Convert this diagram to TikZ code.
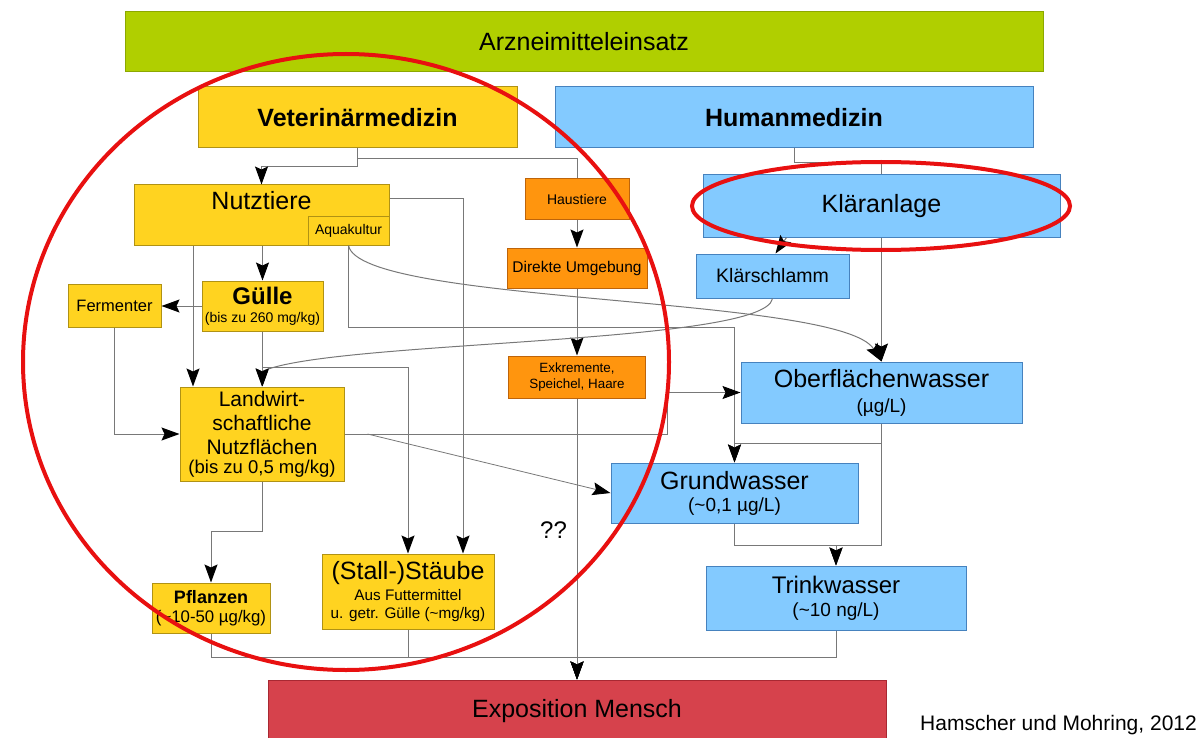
\documentclass[tikz,border=0pt]{standalone}
\usepackage{fontspec}
\setmainfont{Liberation Sans}
\usetikzlibrary{arrows.meta,positioning,calc}
\definecolor{arzgreen}{RGB}{176,207,0}
\definecolor{arzborder}{RGB}{140,168,0}
\definecolor{vetyellow}{RGB}{255,211,32}
\definecolor{vetborder}{RGB}{176,146,20}
\definecolor{humblue}{RGB}{131,202,255}
\definecolor{humborder}{RGB}{70,130,190}
\definecolor{hausorange}{RGB}{255,149,14}
\definecolor{hausborder}{RGB}{190,100,10}
\definecolor{expred}{RGB}{214,66,76}
\definecolor{expborder}{RGB}{168,40,50}
\definecolor{linegray}{RGB}{120,120,120}
\definecolor{markred}{RGB}{232,16,16}
\tikzset{main base/.style={draw,line width=1pt,align=center,inner sep=0pt}, }
\tikzset{main node/.style={rectangle,main base}, }
\tikzset{vet node/.style={main node,fill=vetyellow,draw=vetborder}, }
\tikzset{hum node/.style={main node,fill=humblue,draw=humborder}, }
\tikzset{haus node/.style={main node,fill=hausorange,draw=hausborder}, }
\tikzset{main big/.style={font=\fontsize{25}{28}\selectfont}, }
\tikzset{main bold/.style={font=\fontsize{25}{28}\selectfont\bfseries}, }
\tikzset{main small/.style={font=\fontsize{14}{16}\selectfont}, }
\tikzset{linea/.style={-{Stealth[length=18pt,width=13pt,inset=3pt,color=black]},draw=linegray,line width=1pt}}
\tikzset{linea2/.style={draw=linegray,line width=1pt}}
\tikzset{red mark/.style={draw=markred,line width=4pt}}
\begin{document}
\begin{tikzpicture}[x=1pt,y=-1pt]
  \useasboundingbox (0,0) rectangle (1204,738);
    \node[main node,fill=arzgreen,draw=arzborder,minimum width=918,minimum height=60,main big] (1) at (584,42) {Arzneimitteleinsatz};
    \node[vet node,minimum width=319,minimum height=61,main bold] (2) at (357.5,117.5) {Veterinärmedizin};
    \node[hum node,minimum width=478,minimum height=61,main bold] (3) at (794,117.5) {Humanmedizin};
    \node[vet node,minimum width=255,minimum height=60,main big,text height=24pt,text depth=36pt] (4) at (261.5,215) {Nutztiere};
    \node[vet node,minimum width=81,minimum height=29,main small,anchor=south east] (5) at (4.south east) {Aquakultur};
    \node[haus node,minimum width=104,minimum height=40,main small] (6) at (577,199) {Haustiere};
    \node[haus node,minimum width=140,minimum height=40,font=\fontsize{15.5}{18}\selectfont] (7) [below=28pt of 6] {Direkte Umgebung};
    \node[haus node,minimum width=137,minimum height=42,font=\fontsize{13.4}{16}\selectfont] (8) [below=67pt of 7] {Exkremente,\\Speichel, Haare};
    \node[hum node,minimum width=357,minimum height=62,main big] (9) at (881.5,206) {Kläranlage};
    \node[hum node,minimum width=153,minimum height=44,font=\fontsize{19.5}{22}\selectfont] (10) at (772.5,276) {Klärschlamm};
    \node[vet node,minimum width=121,minimum height=50,font=\fontsize{14}{18}\selectfont] (11) at (262.5,306) {{\fontsize{24}{18}\selectfont\bfseries Gülle}\\(bis zu 260 mg/kg)};
    \node[vet node,minimum width=93,minimum height=43,font=\fontsize{16.5}{20}\selectfont] (12) at (114.5,305.5) {Fermenter};
    \node[vet node,minimum width=164,minimum height=94,font=\fontsize{21}{24}\selectfont] (13) at (262,434) {Landwirt-\\schaftliche\\Nutzflächen\\[-5pt]{\fontsize{18.5}{20}\selectfont(bis zu 0,5 mg/kg)}};
    \node[hum node,minimum width=281,minimum height=61,font=\fontsize{19}{25}\selectfont] (14) at (881.5,392.5) {{\fontsize{25}{25}\selectfont Oberflächenwasser}\\(µg/L)};
    \node[hum node,minimum width=247,minimum height=60,font=\fontsize{19}{22}\selectfont] (15) at (734.5,493) {{\fontsize{25}{22}\selectfont Grundwasser}\\(\textasciitilde 0,1 µg/L)};
    \node[hum node,minimum width=260,minimum height=64,font=\fontsize{19}{23}\selectfont] (16) at (836,598) {{\fontsize{24}{23}\selectfont Trinkwasser}\\(\textasciitilde 10 ng/L)};
    \node[vet node,minimum width=118,minimum height=50,font=\fontsize{16.8}{19}\selectfont] (17) at (211,608) {{\fontsize{18}{19}\selectfont\bfseries Pflanzen}\\(\textasciitilde 10-50 µg/kg)};
    \node[vet node,minimum width=172,minimum height=75,font=\fontsize{15.3}{18}\selectfont] (18) at (408,591.5) {{\fontsize{25}{21}\selectfont (Stall-)Stäube}\\[3pt]Aus Futtermittel\\u. getr. Gülle (\textasciitilde mg/kg)};
    \node[main node,fill=expred,draw=expborder,minimum width=618,minimum height=62,main big] (19) at (577,711) {Exposition Mensch};
    \node[font=\fontsize{24}{26}\selectfont,anchor=base west,inner sep=0pt] (20) at (540,538) {??};
    \node[font=\fontsize{21}{24}\selectfont,anchor=base west,inner sep=0pt] (21) at (920,730) {Hamscher und Mohring, 2012};

\foreach \x /\y in {6/7,7/8,8/19,9/14}
  \path[linea] (\x) edge node {} (\y);
%
    \draw[linea] (2.south) -- ++(0,18) -| (4.north);
    \draw[linea2] (2.south) -- ++(0,10) -| (6.north);
    \draw[linea2] (3.south) -- ++(0,14) -| (9.north);
    \draw[linea] ([xshift=-95pt]9.south) -- ([xshift=3pt]10.north);
    \draw[linea] (11.north |- 4.south) -- (11.north);
    \draw[linea] ($(13.north |- 4.south)+(-69,0)$) -- ($(13.north)+(-69,0)$);
    \draw[linea] (11.west) -- (11.west -| 12.east);
    \draw[linea] (12.south) |- (13.west);
    \draw[linea] (11.south) -- (11.south |- 13.north);
    \draw[linea] (11.south) -- ++(0,36) -| (18.north);
    \draw[linea] ([yshift=16pt]4.east) -| ([xshift=55pt]18.north);
    \draw[linea] (5.south) -- ++(0,82) -| (15.north);
    \draw[linea] (5.south) .. controls (360,305) and (840,295) .. (14.north);
    \draw[linea] (10.south) .. controls (765,345) and (330,340) .. ($(13.north)+(0,-15)$) -- (13.north);
    \draw[linea2] (13.east) -| ($(14.west)+(-73,-66)$);
    \draw[linea] ($(14.west)+(-73,0)$) -- (14.west);
    \draw[linea,line width=0.8pt] ($(13.east)+(23,0)$) -- (15.west);
    \draw[linea] (13.south) -- ++(0,50) -| (17.north);
    \draw[linea] (14.south) -- ++(0,20) -| (15.north);
    \draw[linea] (14.south) -- ++(0,122) -| (16.north);
    \draw[linea] (15.south) -- ++(0,22) -| (16.north);
    \draw[linea] (17.south) -- ++(0,24) -| (19.north);
    \draw[linea] (18.south) -- ++(0,28) -| (19.north);
    \draw[linea] (16.south) -- ++(0,27) -| (19.north);
%
    \draw[red mark] (346,362) ellipse [x radius=323,y radius=308];
    \draw[red mark] (881,206) ellipse [x radius=189,y radius=44];
\end{tikzpicture}
\end{document}
